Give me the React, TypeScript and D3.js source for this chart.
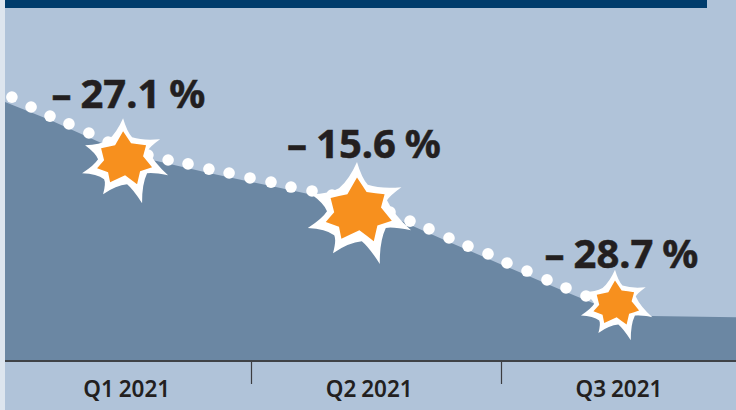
import React, { useEffect, useRef } from "react";
import * as d3 from "d3";

const width = 736;
const height = 410;

// x is in quarters since the start of 2021, y is an index (start of Q1 = about 100)
const areaQuarters = [0, 0.183, 0.419, 0.581, 0.829, 1.08, 1.324, 1.556, 1.792, 2.024, 2.26, 2.396, 2.516, 2.596, 2.94];
const areaValues = [99.6, 92.7, 82.7, 77.7, 72.3, 67.3, 62.3, 55.8, 45.8, 36.2, 26.5, 21.2, 17.7, 17.3, 16.8];

const dotQuarters = [
  0.028, 0.106, 0.183, 0.26, 0.341, 0.419, 0.5, 0.581, 0.663, 0.744, 0.829, 0.911, 0.996, 1.08, 1.16,
  1.244, 1.324, 1.4, 1.48, 1.556, 1.636, 1.712, 1.792, 1.868, 1.948, 2.024, 2.104, 2.184, 2.26, 2.34,
];
const dotValues = [
  101.5, 97.7, 94.2, 91.2, 87.7, 84.2, 81.7, 79.2, 77.3, 75.8, 73.8, 72.3, 70.4, 68.8, 66.9,
  65.4, 63.8, 62.1, 60, 57.3, 53.8, 50.8, 47.3, 44.2, 41.2, 37.7, 34.6, 31.2, 28.1, 25,
];

const quarterLabels = ["Q1 2021", "Q2 2021", "Q3 2021"];
const quarterLabelAt = [0.495, 1.473, 2.472];

const changeLabels = ["\u2013 27.1 %", "\u2013 15.6 %", "\u2013 28.7 %"];
const changeLabelQuarter = [0.502, 1.452, 2.482];
const changeLabelValue = [97.3, 78, 35.8];

const starQuarter = [0.48, 1.424, 2.456];
const starValue = [78, 58.1, 22.3];
const starScale = [1, 1.2, 0.83];

// burst outline, tip then valley, clockwise from the top
const burstWhite: [number, number][] = [
  [0, -40], [9, -21], [37, -19], [25, -8], [45, 17], [24, 15], [19, 45], [4, 26], [-20, 36], [-19, 21], [-41, 15], [-25, 1], [-38, -13], [-15, -18],
];
const burstOrange: [number, number][] = [
  [0, -27], [8, -15], [23, -13], [20, -2], [29, 9], [17, 13], [14, 26], [2, 17], [-13, 24], [-15, 14], [-26, 10], [-19, 2], [-22, -10], [-8, -13],
];

// each side bows slightly towards the centre of the burst
const burstPath = (pts: [number, number][], k: number, pull: number) => {
  const p = d3.path();
  p.moveTo(pts[0][0] * k, pts[0][1] * k);
  pts.forEach((a, i) => {
    const b = pts[(i + 1) % pts.length];
    const cx = ((a[0] + b[0]) / 2) * pull;
    const cy = ((a[1] + b[1]) / 2) * pull;
    p.quadraticCurveTo(cx * k, cy * k, b[0] * k, b[1] * k);
  });
  p.closePath();
  return p.toString();
};

export default function App() {
  const ref = useRef<SVGSVGElement>(null);

  useEffect(() => {
    const svg = d3.select(ref.current);
    svg.selectAll("*").remove();

    const x = d3.scaleLinear().domain([0, 1, 2, 3]).range([5, 251, 501, 751]);
    const y = d3.scaleLinear().domain([0, 100]).range([361, 101]);

    svg.append("rect").attr("width", width).attr("height", height).attr("fill", "#dde5ee");
    svg.append("rect").attr("x", 5).attr("width", width - 5).attr("height", height).attr("fill", "#b0c3d9");
    svg.append("rect").attr("x", 5).attr("width", 702).attr("height", 8).attr("fill", "#003c6c");

    const area = d3
      .area<number>()
      .x((d) => x(d))
      .y0(y(0))
      .y1((d, i) => y(areaValues[i]));
    svg.append("path").attr("d", area(areaQuarters)).attr("fill", "#6b87a3");

    svg
      .append("g")
      .selectAll("circle")
      .data(dotQuarters)
      .enter()
      .append("circle")
      .attr("cx", (d) => x(d))
      .attr("cy", (d, i) => y(dotValues[i]))
      .attr("r", 5.8)
      .attr("fill", "#fff");

    const axis = d3.axisBottom(x).tickValues([1, 2]).tickSize(23).tickFormat(() => "");
    const ag = svg.append("g").attr("transform", `translate(0,${y(0)})`).call(axis);
    ag.select(".domain").remove();
    ag.selectAll("line").attr("stroke", "#3c3c40").attr("stroke-width", 1.2);
    svg
      .append("line")
      .attr("x1", 5)
      .attr("x2", width)
      .attr("y1", y(0))
      .attr("y2", y(0))
      .attr("stroke", "#3f4247")
      .attr("stroke-width", 2);

    svg
      .append("g")
      .selectAll("text")
      .data(quarterLabels)
      .enter()
      .append("text")
      .attr("x", (d, i) => x(quarterLabelAt[i]))
      .attr("y", 397)
      .attr("text-anchor", "middle")
      .attr("font-family", "'Noto Sans', sans-serif")
      .attr("font-weight", 600)
      .attr("font-size", 22.5)
      .attr("word-spacing", -1)
      .attr("fill", "#231f20")
      .text((d) => d);

    const stars = svg
      .append("g")
      .selectAll("g")
      .data(starScale)
      .enter()
      .append("g")
      .attr("transform", (d, i) => `translate(${x(starQuarter[i])},${y(starValue[i])})`);
    stars.append("path").attr("d", (d) => burstPath(burstWhite, d, 0.87)).attr("fill", "#fff");
    stars.append("path").attr("d", (d) => burstPath(burstOrange, d, 1)).attr("fill", "#f7901e");

    svg
      .append("g")
      .selectAll("text")
      .data(changeLabels)
      .enter()
      .append("text")
      .attr("x", (d, i) => x(changeLabelQuarter[i]))
      .attr("y", (d, i) => y(changeLabelValue[i]))
      .attr("text-anchor", "middle")
      .attr("font-family", "'Noto Sans', sans-serif")
      .attr("font-weight", 700)
      .attr("font-size", 40)
      .attr("word-spacing", -1.5)
      .attr("stroke", "#231f20")
      .attr("stroke-width", 0.5)
      .attr("fill", "#231f20")
      .text((d) => d);
  }, []);

  return (
    <svg
      ref={ref}
      width={width}
      height={height}
      style={{ position: "absolute", left: 0, top: 0, display: "block" }}
    ></svg>
  );
}
